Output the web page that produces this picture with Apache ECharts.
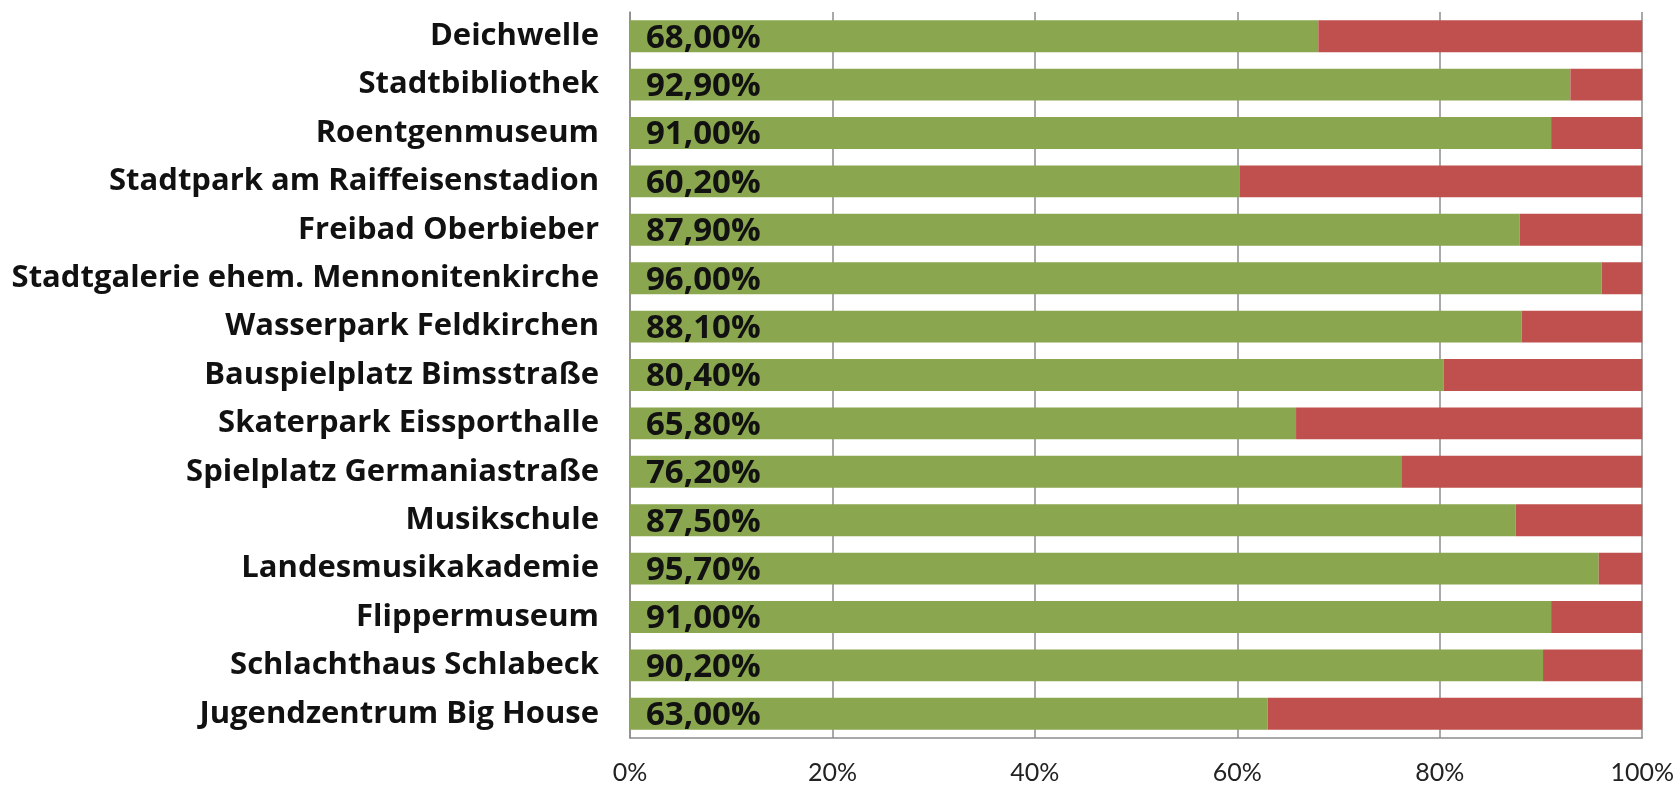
<!DOCTYPE html>
<html>
<head>
<meta charset="utf-8">
<script src="https://cdn.jsdelivr.net/npm/echarts@6/dist/echarts.min.js"></script>
<style>
  html, body { margin: 0; padding: 0; background: #fff; }
  #chart { width: 1677px; height: 785px; }
</style>
</head>
<body>
<div id="chart"></div>
<script>
// categories, top to bottom as in the picture
const places = [
  'Deichwelle',
  'Stadtbibliothek',
  'Roentgenmuseum',
  'Stadtpark am Raiffeisenstadion',
  'Freibad Oberbieber',
  'Stadtgalerie ehem. Mennonitenkirche',
  'Wasserpark Feldkirchen',
  'Bauspielplatz Bimsstraße',
  'Skaterpark Eissporthalle',
  'Spielplatz Germaniastraße',
  'Musikschule',
  'Landesmusikakademie',
  'Flippermuseum',
  'Schlachthaus Schlabeck',
  'Jugendzentrum Big House'
]
// green share in percent
const yesShare = [68.0, 92.9, 91.0, 60.2, 87.9, 96.0, 88.1, 80.4, 65.8, 76.2, 87.5, 95.7, 91.0, 90.2, 63.0]
// red remainder
const noShare = [32.0, 7.1, 9.0, 39.8, 12.1, 4.0, 11.9, 19.6, 34.2, 23.8, 12.5, 4.3, 9.0, 9.8, 37.0]

const chart = echarts.init(document.getElementById('chart'))

const option = {
  animation: false,
  grid: {
    left: 630,
    right: 34,
    top: 12,
    bottom: 45
  },
  xAxis: {
    type: 'value',
    min: 0,
    max: 100,
    interval: 20,
    axisLine: { show: true, lineStyle: { color: '#8c8c8c', width: 1.5 } },
    axisTick: { show: false },
    splitLine: { show: true, lineStyle: { color: '#8c8c8c', width: 1.5 } },
    axisLabel: {
      formatter: '{value}%',
      color: '#222',
      fontFamily: 'Lato',
      fontSize: 25,
      margin: 22
    }
  },
  yAxis: {
    type: 'category',
    inverse: true,
    data: places,
    axisLine: { show: true, lineStyle: { color: '#8c8c8c', width: 1.5 } },
    axisTick: { show: false },
    axisLabel: {
      color: '#111',
      fontFamily: 'Open Sans',
      fontWeight: 'bold',
      fontSize: 31,
      margin: 31
    }
  },
  series: [
    {
      name: 'ja',
      type: 'bar',
      stack: 'total',
      barWidth: '66%',
      data: yesShare,
      itemStyle: { color: '#8aa64f' },
      label: {
        show: true,
        position: 'insideLeft',
        distance: 16,
        offset: [0, 2],
        color: '#111',
        fontFamily: 'Open Sans',
        fontWeight: 'bold',
        fontSize: 33,
        formatter: (p) => p.value.toFixed(2).replace('.', ',') + '%'
      }
    },
    {
      name: 'nein',
      type: 'bar',
      stack: 'total',
      barWidth: '66%',
      data: noShare,
      itemStyle: { color: '#c0504d' }
    }
  ]
}

chart.setOption(option)
</script>
</body>
</html>
